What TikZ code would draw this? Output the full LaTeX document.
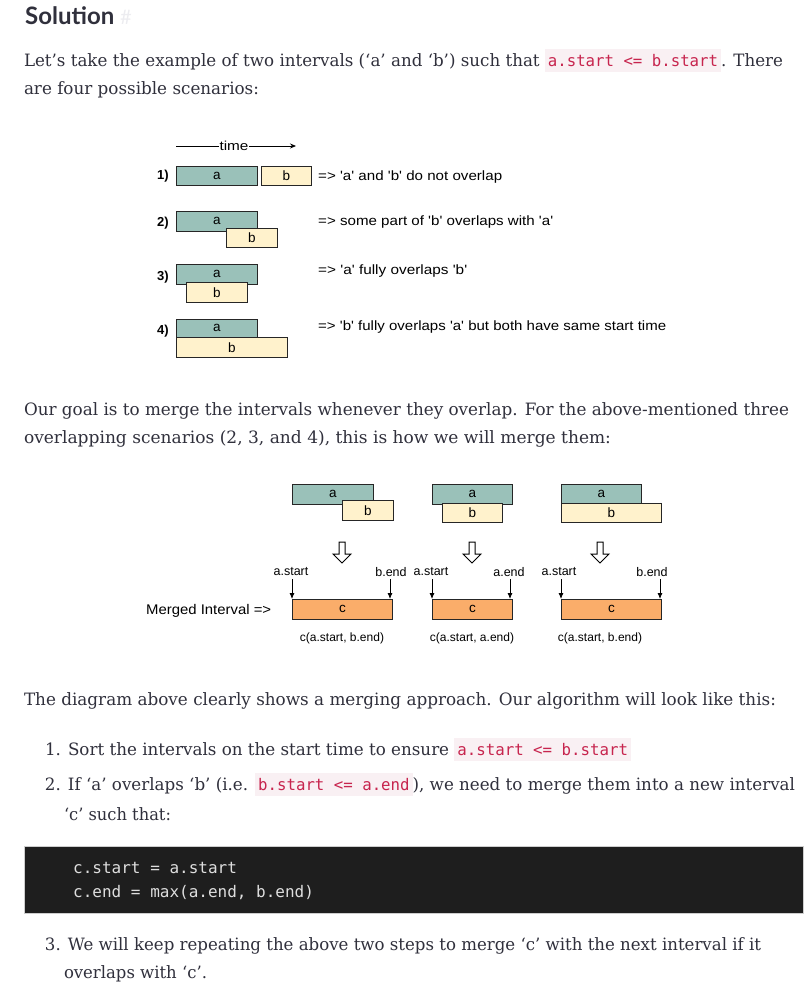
\documentclass[tikz,border=0pt]{standalone}
\usepackage{fontspec}
\usepackage{graphicx}
\setmainfont{DejaVu Serif}
\newfontfamily\hfont{Lato}
\newfontfamily\dfont{Liberation Sans}[Ligatures=TeXOff]
\newfontfamily\cfont{DejaVu Sans Mono}
\usetikzlibrary{arrows.meta}
\definecolor{txt}{RGB}{48,48,60}
\definecolor{acol}{RGB}{154,193,185}
\definecolor{bcol}{RGB}{255,242,204}
\definecolor{ccol}{RGB}{250,173,106}
\definecolor{codebg}{RGB}{249,240,243}
\definecolor{codered}{RGB}{199,37,78}
\definecolor{blk}{RGB}{30,30,30}
\definecolor{blkborder}{RGB}{205,205,205}
\definecolor{codewhite}{RGB}{222,222,222}
\definecolor{hashgray}{RGB}{236,236,240}
\newsavebox\fitbox
\newcommand\fitto[2]{\sbox\fitbox{#2}\pgfmathsetmacro\fitratio{#1/\the\wd\fitbox}\scalebox{\fitratio}[1]{\usebox\fitbox}}
\newcommand\icode[1]{{\setlength\fboxsep{0pt}\colorbox{codebg}{\rule[-6pt]{0pt}{23pt}\hspace{3pt}{\cfont\fontsize{16}{18}\selectfont\color{codered}#1}\hspace{3pt}}}}
\newcommand\harrow[1]{\draw[hollow] (#1-3,542) -- (#1+3,542) -- (#1+3,554) -- (#1+9,554) -- (#1,563) -- (#1-9,554) -- (#1-3,554) -- cycle;}
\tikzset{
  txtline/.style={anchor=base west, inner sep=0pt, outer sep=0pt, text=txt, font=\fontsize{17}{20}\selectfont},
  ibox/.style={draw=black!85, line width=0.8pt, inner sep=0pt, anchor=north west, font=\dfont\fontsize{13.5}{15}\selectfont},
  abox/.style={ibox, fill=acol},
  bbox/.style={ibox, fill=bcol},
  cbox/.style={ibox, fill=ccol},
  wh/.style 2 args={minimum width=#1pt, minimum height=#2pt},
  dnum/.style={anchor=east, inner sep=0pt, font=\dfont\bfseries\fontsize{13}{15}\selectfont},
  ddesc/.style={anchor=west, inner sep=0pt, font=\dfont\fontsize{13.5}{15}\selectfont},
  dlab/.style={inner sep=0pt, font=\dfont\fontsize{12.5}{14}\selectfont},
  clab/.style={inner sep=0pt, font=\dfont\fontsize{12}{14}\selectfont},
  hollow/.style={draw=black, line width=1pt, fill=white, line join=miter},
  sarr/.style={draw=black, line width=0.8pt, -{Latex[length=6pt,width=5pt]}},
  codeline/.style={anchor=base west, inner sep=0pt, text=codewhite, font=\cfont\fontsize{16}{18}\selectfont}
}
\begin{document}
\begin{tikzpicture}[x=1pt,y=-1pt]
\fill[white] (0,0) rectangle (808,996);
\useasboundingbox (0,0) rectangle (808,996);
% header
\node[anchor=base west, inner sep=0pt, text=txt, font=\hfont\bfseries\fontsize{24}{28}\selectfont] (head) at (25,24) {Solution};
\node[anchor=base west, inner sep=0pt, text=hashgray, font=\hfont\fontsize{20}{24}\selectfont] (hash) at (120,24) {\#};
% paragraph 1
\node[txtline] (p1) at (24,66) {\fitto{759}{Let’s take the example of two intervals (‘a’ and ‘b’) such that \icode{a.start <= b.start}. There}};
\node[txtline] (p2) at (24,94) {\fitto{235}{are four possible scenarios:}};
% time arrow
\node[inner sep=0.5pt, font=\dfont\fontsize{13}{15}\selectfont] (time) at (234,146) {\fitto{29}{time}};
\coordinate (t0) at (176,146);
\coordinate (t1) at (296,146);
\draw[line width=0.8pt] (t0) -- (time.west);
\draw[line width=0.8pt, -{Stealth[length=6pt,width=5pt]}] (time.east) -- (t1);
% scenario 1
\node[dnum] (n1) at (169,176) {1)};
\node[abox, wh={81}{19}] (a1) at (176,166) {a};
\node[bbox, wh={50}{19}] (b1) at (261,166) {b};
\node[ddesc] (d1) at (318,177) {\fitto{184}{=> 'a' and 'b' do not overlap}};
% scenario 2
\node[dnum] (n2) at (169,223) {2)};
\node[abox, wh={81}{20}] (a2) at (176,211) {\raisebox{1pt}{a}};
\node[bbox, wh={51}{19}] (b2) at (226,228) {b};
\node[ddesc] (d2) at (318,222) {\fitto{235}{=> some part of 'b' overlaps with 'a'}};
% scenario 3
\node[dnum] (n3) at (169,277) {3)};
\node[abox, wh={81}{20}] (a3) at (176,264) {\raisebox{-2pt}{a}};
\node[bbox, wh={61}{20}] (b3) at (186,282) {b};
\node[ddesc] (d3) at (318,271) {\fitto{149}{=> 'a' fully overlaps 'b'}};
% scenario 4
\node[dnum] (n4) at (169,331) {4)};
\node[abox, wh={81}{18}] (a4) at (176,319) {a};
\node[bbox, wh={111}{20}] (b4) at (176,337) {b};
\node[ddesc] (d4) at (318,327) {\fitto{348}{=> 'b' fully overlaps 'a' but both have same start time}};
% paragraph 2
\node[txtline] (p3) at (24,415) {\fitto{765}{Our goal is to merge the intervals whenever they overlap. For the above-mentioned three}};
\node[txtline] (p4) at (24,443) {\fitto{587}{overlapping scenarios (2, 3, and 4), this is how we will merge them:}};
% merge 1
\node[abox, wh={81}{20}] (ma1) at (292,484) {a};
\node[bbox, wh={51}{20}] (mb1) at (342,500) {b};
\harrow{342}
\node[dlab] (ls1) at (291,572) {a.start};
\node[dlab] (le1) at (391,572) {b.end};
\node[cbox, wh={100}{20}] (c1) at (292,599) {c};
\coordinate (s1a) at (292,579);
\coordinate (s1b) at (390,579);
\draw[sarr] (s1a) -- (s1a |- c1.north);
\draw[sarr] (s1b) -- (s1b |- c1.north);
\node[clab] (cl1) at (342,638) {c(a.start, b.end)};
% merge 2
\node[abox, wh={80}{20}] (ma2) at (432,484) {a};
\node[bbox, wh={60}{19}] (mb2) at (442,503) {b};
\harrow{472}
\node[dlab] (ls2) at (431,572) {a.start};
\node[dlab] (le2) at (509,572) {a.end};
\node[cbox, wh={80}{20}] (c2) at (432,599) {c};
\coordinate (s2a) at (432,579);
\coordinate (s2b) at (510,579);
\draw[sarr] (s2a) -- (s2a |- c2.north);
\draw[sarr] (s2b) -- (s2b |- c2.north);
\node[clab] (cl2) at (472,638) {c(a.start, a.end)};
% merge 3
\node[abox, wh={80}{20}] (ma3) at (561,484) {a};
\node[bbox, wh={100}{19}] (mb3) at (561,503) {b};
\harrow{600}
\node[dlab] (ls3) at (559,572) {a.start};
\node[dlab] (le3) at (652,572) {b.end};
\node[cbox, wh={100}{20}] (c3) at (561,599) {c};
\coordinate (s3a) at (561,579);
\coordinate (s3b) at (660,579);
\draw[sarr] (s3a) -- (s3a |- c3.north);
\draw[sarr] (s3b) -- (s3b |- c3.north);
\node[clab] (cl3) at (600,638) {c(a.start, b.end)};
\node[anchor=west, inner sep=0pt, font=\dfont\fontsize{14}{16}\selectfont] (mi) at (146,611) {\fitto{125}{Merged Interval =>}};
% paragraph 3
\node[txtline] (p5) at (24,705) {\fitto{752}{The diagram above clearly shows a merging approach. Our algorithm will look like this:}};
\node[txtline] (l1) at (45,755) {\fitto{586}{1. Sort the intervals on the start time to ensure \icode{a.start <= b.start}}};
\node[txtline] (l2) at (45,790) {\fitto{750}{2. If ‘a’ overlaps ‘b’ (i.e. \icode{b.start <= a.end}), we need to merge them into a new interval}};
\node[txtline] (l2b) at (64,820) {\fitto{107}{‘c’ such that:}};
% code block
\node[draw=blkborder, line width=1pt, fill=blk, anchor=north west, minimum width=779pt, minimum height=67pt, inner sep=0pt] (code) at (24,846) {};
\node[codeline] (cd1) at (73,873) {c.start = a.start};
\node[codeline] (cd2) at (73,897) {c.end = max(a.end, b.end)};
\node[txtline] (l3) at (45,950) {\fitto{716}{3. We will keep repeating the above two steps to merge ‘c’ with the next interval if it}};
\node[txtline] (l3b) at (64,978) {\fitto{143}{overlaps with ‘c’.}};
\end{tikzpicture}
\end{document}
